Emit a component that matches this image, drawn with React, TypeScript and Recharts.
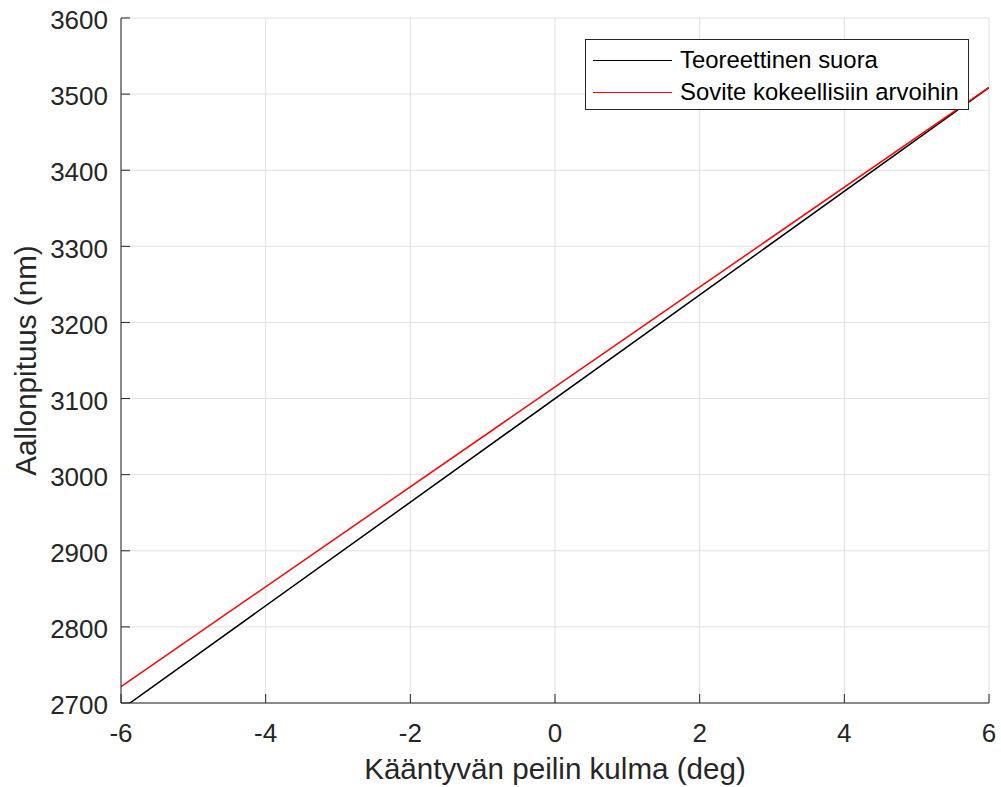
import React from 'react';
import { LineChart, Line, XAxis, YAxis, CartesianGrid, Legend } from 'recharts';

// angle of the rotating mirror (deg)
const angles = [-6, 6];
// wavelength (nm)
const theoretical = [2691.5, 3508.5];
const fitted = [2721.5, 3509];

const xTicks = [-6, -4, -2, 0, 2, 4, 6];
const yTicks = [2700, 2800, 2900, 3000, 3100, 3200, 3300, 3400, 3500, 3600];

const FONT = '"Liberation Sans", Arial, Helvetica, sans-serif';
const INK = '#262626';

const data = angles.map((a, i) => ({ angle: a, theory: theoretical[i], fit: fitted[i] }));

const LegendBox = ({ payload }: any) => (
  <div
    style={{
      width: 384,
      height: 71,
      border: `1px solid ${INK}`,
      background: '#fff',
      boxSizing: 'border-box',
      padding: '4px 0 0 7px',
      fontFamily: FONT,
      fontSize: 23.9,
      color: '#000',
    }}
  >
    {(payload || []).map((p: any) => (
      <div key={p.value} style={{ display: 'flex', alignItems: 'center', height: 32 }}>
        <span style={{ width: 79, height: 0, borderTop: `1.5px solid ${p.color}`, marginRight: 8 }} />
        <span style={{ whiteSpace: 'nowrap' }}>{p.value}</span>
      </div>
    ))}
  </div>
);

const XLabel = ({ viewBox }: any) => (
  <text
    x={viewBox.x + viewBox.width / 2}
    y={viewBox.y + 76}
    textAnchor="middle"
    fill={INK}
    fontSize={29.6}
    fontFamily={FONT}
  >
    Kääntyvän peilin kulma (deg)
  </text>
);

const YLabel = ({ viewBox }: any) => {
  const x = viewBox.x + 36;
  const y = viewBox.y + viewBox.height / 2;
  return (
    <text
      x={x}
      y={y}
      transform={`rotate(-90, ${x}, ${y})`}
      textAnchor="middle"
      fill={INK}
      fontSize={29.6}
      fontFamily={FONT}
    >
      Aallonpituus (nm)
    </text>
  );
};

export default function App() {
  return (
    <div style={{ position: 'absolute', left: 0, top: 0, background: '#fff' }}>
      <LineChart width={1001} height={787} data={data} margin={{ top: 18, right: 12, bottom: 0, left: 0 }}>
        <CartesianGrid stroke="#e0e0e0" />
        <XAxis
          dataKey="angle"
          type="number"
          domain={[-6, 6]}
          ticks={xTicks}
          interval={0}
          allowDataOverflow
          height={84}
          axisLine={{ stroke: INK }}
          tickLine={{ stroke: INK }}
          tickSize={-9}
          tickMargin={30}
          tick={{ fill: INK, fontSize: 26, fontFamily: FONT }}
          label={<XLabel />}
        />
        <YAxis
          type="number"
          domain={[2700, 3600]}
          ticks={yTicks}
          interval={0}
          allowDataOverflow
          width={121}
          axisLine={{ stroke: INK }}
          tickLine={{ stroke: INK }}
          tickSize={-9}
          tickMargin={22}
          tick={{ fill: INK, fontSize: 26, fontFamily: FONT, dy: 2 }}
          label={<YLabel />}
        />
        <Legend
          layout="horizontal"
          verticalAlign="middle"
          align="center"
          itemSorter={null as any}
          content={<LegendBox />}
          wrapperStyle={{ left: 585, top: 39, width: 384 }}
        />
        <Line
          type="linear"
          dataKey="theory"
          name="Teoreettinen suora"
          stroke="#000000"
          strokeWidth={1.5}
          dot={false}
          isAnimationActive={false}
        />
        <Line
          type="linear"
          dataKey="fit"
          name="Sovite kokeellisiin arvoihin"
          stroke="#ff0000"
          strokeWidth={1.5}
          dot={false}
          isAnimationActive={false}
        />
      </LineChart>
    </div>
  );
}
